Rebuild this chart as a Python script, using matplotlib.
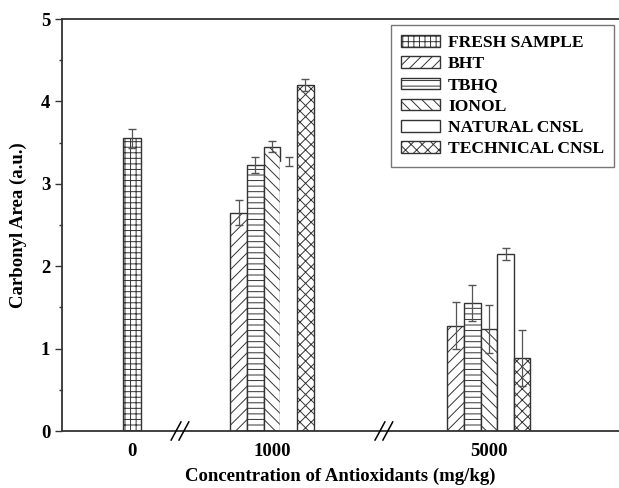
import numpy as np
import matplotlib
matplotlib.use('Agg')
import matplotlib.pyplot as plt
from matplotlib.ticker import MultipleLocator
from matplotlib.patches import Patch

plt.rcParams['font.family'] = 'Liberation Serif'
plt.rcParams['font.weight'] = 'bold'
plt.rcParams['hatch.linewidth'] = 0.7
plt.rcParams['hatch.color'] = '#444444'

concentrations = ['0', '1000', '5000']
samples = ['FRESH SAMPLE', 'BHT', 'TBHQ', 'IONOL', 'NATURAL CNSL', 'TECHNICAL CNSL']

fresh = [3.55]
fresh_err = [0.12]
# order: BHT, TBHQ, IONOL, NATURAL CNSL, TECHNICAL CNSL
vals_1000 = [2.65, 3.23, 3.45, 3.27, 4.20]
err_1000 = [0.15, 0.10, 0.07, 0.06, 0.07]
vals_5000 = [1.28, 1.55, 1.24, 2.15, 0.89]
err_5000 = [0.28, 0.22, 0.29, 0.07, 0.34]

hatches = ['+++', '///', '---', '\\\\\\', '', 'xxx']
group_x = [0, 1.0, 2.55]
w = 0.119
edge = '#333333'
ecol = '#555555'

fig = plt.figure(figsize=(6.19, 4.88), dpi=100)
ax = fig.add_axes([62/619, 57/488, 557/619, 412/488])

ax.bar(group_x[0], fresh[0], 0.127, color='white', edgecolor=edge, hatch=hatches[0], lw=1, zorder=2)
ax.errorbar(group_x[0], fresh[0], yerr=fresh_err[0], fmt='none', ecolor=ecol, elinewidth=0.9, capsize=3, zorder=3)

for gi, (vals, errs) in enumerate([(vals_1000, err_1000), (vals_5000, err_5000)]):
    cx = group_x[gi + 1]
    xs = cx + (np.arange(5) - 2) * w
    for i in range(5):
        ec = edge
        if gi == 0 and i == 3:
            ec = 'white'  # outline not visible in the original
        ax.bar(xs[i], vals[i], w, color='white', edgecolor=ec, hatch=hatches[i + 1], lw=1, zorder=2)
        ax.errorbar(xs[i], vals[i], yerr=errs[i], fmt='none', ecolor=ecol, elinewidth=0.9, capsize=3, zorder=3)

ax.set_xlim(-0.5, 3.48)
ax.set_ylim(0, 5)
ax.set_xticks(group_x)
ax.set_xticklabels(concentrations)
ax.yaxis.set_major_locator(MultipleLocator(1))
ax.yaxis.set_minor_locator(MultipleLocator(0.5))
ax.tick_params(axis='x', length=0, pad=9, labelsize=13.5)
ax.tick_params(axis='y', which='major', length=5, width=1, color=edge, labelsize=13.5, direction='out')
ax.tick_params(axis='y', which='minor', length=2.5, width=1, color=edge, direction='out')
for s in ['left', 'bottom', 'top']:
    ax.spines[s].set_color(edge)
    ax.spines[s].set_linewidth(1.3)
ax.spines['right'].set_visible(False)

ax.set_xlabel('Concentration of Antioxidants (mg/kg)', fontsize=13.5, fontweight='bold', labelpad=5)
ax.set_ylabel('Carbonyl Area (a.u.)', fontsize=13.5, fontweight='bold', labelpad=10)

# axis break marks
trans = ax.get_xaxis_transform()
for bx in [0.343, 1.80]:
    for off in [-0.028, 0.028]:
        ax.plot([bx + off - 0.035, bx + off + 0.035], [-0.022, 0.022], color='black', lw=1.1,
                transform=trans, clip_on=False, zorder=5)

handles = [Patch(facecolor='white', edgecolor=edge, hatch=h, label=l) for h, l in zip(hatches, samples)]
leg = ax.legend(handles=handles, loc='upper right', bbox_to_anchor=(0.997, 0.993), fancybox=False,
                prop={'family': 'Liberation Serif', 'weight': 'bold', 'size': 12.6},
                handlelength=2.25, handleheight=0.65, labelspacing=0.3, handletextpad=0.45,
                borderpad=0.55, borderaxespad=0.2, framealpha=1)
leg.get_frame().set_edgecolor('#777777')
leg.get_frame().set_linewidth(1)

fig.savefig('out.png', dpi=100)
